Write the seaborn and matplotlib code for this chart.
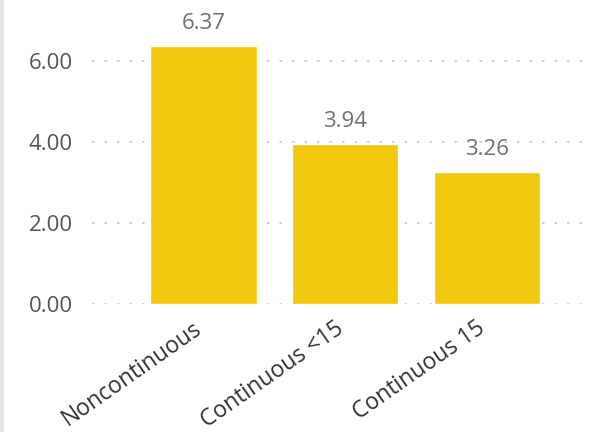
import matplotlib
matplotlib.use("Agg")
import matplotlib.pyplot as plt
import matplotlib.transforms as mtransforms
import seaborn as sns
import pandas as pd
from matplotlib.patches import Rectangle

categories = ["Noncontinuous", "Continuous <15", "Continuous 15"]
values = [6.37, 3.94, 3.26]
yticks = [0, 2, 4, 6]

sns.set_theme(style="white")
plt.rcParams['font.family'] = ['Open Sans', 'DejaVu Sans']

df = pd.DataFrame({"cat": categories, "val": values})

fig = plt.figure(figsize=(5.91, 4.32), dpi=100)
W, H = 591, 432
ax = fig.add_axes([92 / W, 1 - 304 / H, (585 - 92) / W, (304 - 22.8) / H])

sns.barplot(data=df, x="cat", y="val", color="#F2C80F", saturation=1, width=0.75, ax=ax)

ax.set_ylim(0, 6.94)
ax.set_xlim(-0.785, 2.69)
ax.set_yticks(yticks)
ax.set_yticklabels([f"{t:.2f}" for t in yticks], fontsize=16, color="#555555")
ax.set_xticks(range(len(categories)))
ax.set_xticklabels(categories, rotation=35, ha="right", rotation_mode="anchor",
                   fontsize=16.5, color="#333333")
ax.tick_params(axis="x", pad=9, length=0)
ax.tick_params(axis="y", pad=14, length=0)
offset = mtransforms.ScaledTranslation(-11 / 100, 0, fig.dpi_scale_trans)
for lab in ax.get_xticklabels():
    lab.set_transform(lab.get_transform() + offset)
ax.set_xlabel("")
ax.set_ylabel("")
for s in ax.spines.values():
    s.set_visible(False)
ax.set_axisbelow(True)
for t in yticks:
    ax.axhline(t, color="#C8C8C8", lw=1.2, ls=(0, (1.5, 6)), zorder=0)

for i, v in enumerate(values):
    ax.text(i, v + 0.42, f"{v:.2f}", ha="center", va="baseline", fontsize=16, color="#707070")

fig.patches.append(Rectangle((0, 0), 4 / W, 1, transform=fig.transFigure,
                             facecolor="#E6E6E6", edgecolor="none"))

fig.savefig("out.png", dpi=100)
